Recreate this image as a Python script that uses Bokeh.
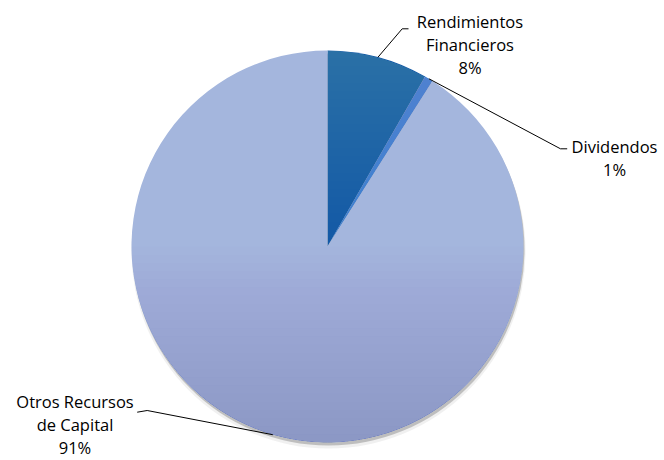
import math
from bokeh.plotting import figure
from bokeh.models import ColumnDataSource
from bokeh.core.properties import value
from bokeh.embed import file_html
from bokeh.resources import INLINE

# ---- data ----
categories = ["Rendimientos Financieros", "Dividendos", "Otros Recursos de Capital"]
label_lines = [["Rendimientos", "Financieros"], ["Dividendos"], ["Otros Recursos", "de Capital"]]
shares = [8.3, 0.7, 91.0]
colors = ["#1258A6", "#3A7ED0", "#A4B6DD"]

# ---- layout (pixels inside the plot) ----
W, H = 664, 460
cx, cy, R = 327, 214, 196
# elbow point, end of horizontal leg, label anchor (centre x, first line y) for each slice
elbows = [(401.7, 431.7), (560, 311.7), (146.7, 50)]
ends = [(408, 431.7), (566.7, 311.7), (136.7, 48.3)]
label_pos = [(469.5, 439), (614, 314), (74.5, 59)]
line_h = 23

p = figure(width=W, height=H, x_range=(0, W), y_range=(0, H),
           output_backend="svg", toolbar_location=None, min_border=0)
p.axis.visible = False
p.grid.visible = False
p.outline_line_color = None
p.background_fill_color = "white"

total = sum(shares)
starts, stops, mids = [], [], []
cum = 0.0
for s in shares:
    a0 = math.pi / 2 - cum / total * 2 * math.pi
    cum += s
    a1 = math.pi / 2 - cum / total * 2 * math.pi
    starts.append(a0)
    stops.append(a1)
    mids.append((a0 + a1) / 2)

src = ColumnDataSource(dict(x=[cx] * 3, y=[cy] * 3, start=starts, end=stops, color=colors))

# soft shadow
p.circle(x=cx + 1, y=cy - 5, radius=R + 1, fill_color="#808080", fill_alpha=0.12, line_color=None)
p.circle(x=cx + 1, y=cy - 3, radius=R, fill_color="#606060", fill_alpha=0.35, line_color=None)
p.wedge(x="x", y="y", radius=R, start_angle="start", end_angle="end", direction="clock",
        fill_color="color", line_color=None, source=src)

# vertical shading (lighter at top, darker at bottom) as stacked circle caps
N = 24
def cap(t, upper):
    a = math.asin(t)
    angs = [a + (math.pi - 2 * a) * j / 40 for j in range(41)]
    sgn = 1 if upper else -1
    return ([cx + R * math.cos(g) for g in angs], [cy + sgn * R * math.sin(g) for g in angs])

up_xs, up_ys, dn_xs, dn_ys = [], [], [], []
for k in range(N):
    t = k / N
    x1, y1 = cap(t, True)
    up_xs.append(x1); up_ys.append(y1)
    x2, y2 = cap(t, False)
    dn_xs.append(x2); dn_ys.append(y2)
a_up = 1 - (1 - 0.17) ** (1 / N)
a_dn = 1 - (1 - 0.22) ** (1 / N)
p.patches(up_xs, up_ys, fill_color="white", fill_alpha=a_up, line_color=None)
p.patches(dn_xs, dn_ys, fill_color="#2C579C", fill_alpha=a_dn, line_color=None)

# leader lines
for i, m in enumerate(mids):
    sx = cx + R * math.cos(m)
    sy = cy + R * math.sin(m)
    p.line([sx, elbows[i][0], ends[i][0]], [sy, elbows[i][1], ends[i][1]],
           line_color="black", line_width=1)

# labels
tx, ty, tt = [], [], []
for i, name in enumerate(categories):
    lines = label_lines[i] + [f"{round(shares[i] / total * 100):.0f}%"]
    for k, t in enumerate(lines):
        tx.append(label_pos[i][0])
        ty.append(label_pos[i][1] - k * line_h)
        tt.append(t)
p.text(x=tx, y=ty, text=tt, text_align="center", text_baseline="middle",
       text_font=value("Open Sans"), text_font_size="16.5px", text_color="black")

open("out.html", "w").write(file_html(p, INLINE))
